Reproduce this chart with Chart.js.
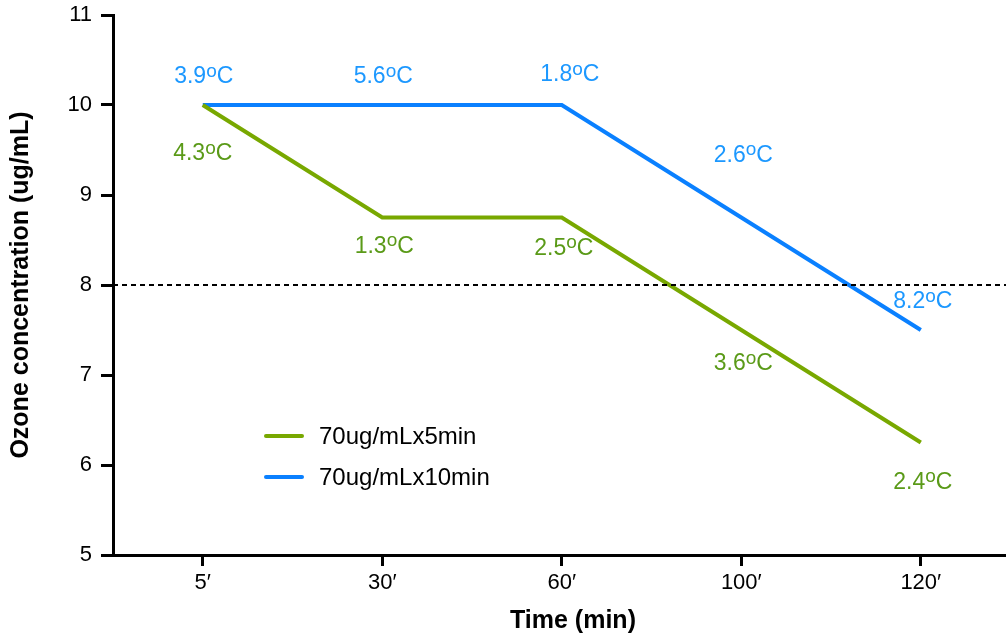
<!DOCTYPE html>
<html>
<head>
<meta charset="utf-8">
<script src="https://cdn.jsdelivr.net/npm/chart.js@4.4.1/dist/chart.umd.min.js"></script>
<style>
  html, body { margin: 0; padding: 0; background: #fff; overflow: hidden; }
  #wrap { width: 1006px; height: 636px; position: relative; overflow: hidden; }
</style>
</head>
<body>
<div id="wrap"><canvas id="c" width="1033" height="636"></canvas></div>
<script>
// Sampling times and ozone concentration for each exposure protocol
const timePoints = ["5′", "30′", "60′", "100′", "120′"];
const ozone5min  = [10, 8.75, 8.75, 7.5, 6.25];
const ozone10min = [10, 10, 10, 8.75, 7.5];
// Temperature measured at each sampling time
const temp5min  = ["4.3ºC", "1.3ºC", "2.5ºC", "3.6ºC", "2.4ºC"];
const temp10min = ["3.9ºC", "5.6ºC", "1.8ºC", "2.6ºC", "8.2ºC"];
const seriesNames = ["70ug/mLx5min", "70ug/mLx10min"];
const thresholdValue = 8;
const yTicks = [5, 6, 7, 8, 9, 10, 11];

const FONT = "'Liberation Sans', Arial, Helvetica, sans-serif";
const GREEN_LINE = "#78a800", GREEN_TEXT = "#5a9a18";
const BLUE_LINE = "#0a80ff", BLUE_TEXT = "#1c98ff";

const toXY = arr => arr.map((v, i) => ({ x: i, y: v }));

// Draws "3.9ºC" style labels with a raised "o" for the degree mark
function drawTempLabel(ctx, text, cx, cy, color) {
  const parts = text.split("º");
  const big = "23px " + FONT, small = "19px " + FONT;
  ctx.font = big;
  const w1 = ctx.measureText(parts[0]).width;
  const w3 = ctx.measureText(parts[1] || "").width;
  ctx.font = small;
  const w2 = ctx.measureText("o").width;
  const total = w1 + w2 + w3;
  let x = cx - total / 2;
  ctx.fillStyle = color;
  ctx.textAlign = "left";
  ctx.textBaseline = "alphabetic";
  const base = cy + 8;
  ctx.font = big; ctx.fillText(parts[0], x, base); x += w1;
  ctx.font = small; ctx.fillText("o", x, base - 6.5); x += w2;
  ctx.font = big; ctx.fillText(parts[1] || "", x, base);
}

const extras = {
  id: "extras",
  afterDatasetsDraw(chart) {
    const ctx = chart.ctx, xs = chart.scales.x, ys = chart.scales.y;
    const area = chart.chartArea;
    ctx.save();
    // dashed reference line
    const yT = ys.getPixelForValue(thresholdValue);
    ctx.strokeStyle = "#000"; ctx.lineWidth = 2; ctx.setLineDash([5, 4]);
    ctx.beginPath(); ctx.moveTo(area.left, yT); ctx.lineTo(area.right, yT); ctx.stroke();
    ctx.setLineDash([]);

    // temperature labels: offsets above/below each point
    const offs10 = [-30, -30, -32, -64, -30];
    const offs5  = [47, 27, 29, 32, 38];
    const dx10 = [1, 1, 8, 2, 2];
    const dx5  = [0, 2, 2, 2, 2];
    timePoints.forEach((t, i) => {
      drawTempLabel(ctx, temp10min[i], xs.getPixelForValue(i) + dx10[i], ys.getPixelForValue(ozone10min[i]) + offs10[i], BLUE_TEXT);
      drawTempLabel(ctx, temp5min[i], xs.getPixelForValue(i) + dx5[i], ys.getPixelForValue(ozone5min[i]) + offs5[i], GREEN_TEXT);
    });

    // legend inside the plot
    const items = [[seriesNames[0], GREEN_LINE, 436], [seriesNames[1], BLUE_LINE, 477]];
    ctx.lineCap = "round";
    items.forEach(([name, col, y]) => {
      ctx.strokeStyle = col; ctx.lineWidth = 4;
      ctx.beginPath(); ctx.moveTo(266, y); ctx.lineTo(302, y); ctx.stroke();
      ctx.fillStyle = "#000"; ctx.font = "24px " + FONT;
      ctx.textAlign = "left"; ctx.textBaseline = "middle";
      ctx.fillText(name, 319, y + 1);
    });
    ctx.restore();
  }
};

new Chart(document.getElementById("c"), {
  type: "line",
  data: {
    datasets: [
      { label: seriesNames[0], data: toXY(ozone5min), borderColor: GREEN_LINE, borderWidth: 4, pointRadius: 0, tension: 0, fill: false },
      { label: seriesNames[1], data: toXY(ozone10min), borderColor: BLUE_LINE, borderWidth: 4, pointRadius: 0, tension: 0, fill: false }
    ]
  },
  options: {
    responsive: false,
    animation: false,
    devicePixelRatio: 1,
    layout: { padding: { top: 15, right: 0, left: 0, bottom: 0 } },
    plugins: { legend: { display: false }, tooltip: { enabled: false } },
    scales: {
      x: {
        type: "linear",
        min: -0.5,
        max: 4.625,
        afterBuildTicks: s => { s.ticks = timePoints.map((_, i) => ({ value: i })); },
        afterFit: s => { s.height = 81; },
        ticks: {
          callback: v => timePoints[v] ?? "",
          color: "#000", font: { family: FONT, size: 22 }, padding: 4, maxRotation: 0, autoSkip: false
        },
        grid: { drawOnChartArea: false, drawTicks: true, tickLength: 11, tickWidth: 3, color: "#000" },
        border: { display: true, color: "#000", width: 3 },
        title: { display: true, text: "Time (min)", color: "#000", font: { family: FONT, size: 25, weight: "bold" }, padding: { top: 2, bottom: 0 } }
      },
      y: {
        min: 5, max: 11,
        afterBuildTicks: s => { s.ticks = yTicks.map(v => ({ value: v })); },
        afterFit: s => { s.width = 113; s.paddingTop = 0; },
        ticks: { color: "#000", font: { family: FONT, size: 22, lineHeight: 0.6 }, padding: 9 },
        grid: { drawOnChartArea: false, drawTicks: true, tickLength: 12, tickWidth: 3, color: "#000" },
        border: { display: true, color: "#000", width: 3 },
        title: { display: true, text: "Ozone concentration (ug/mL)", color: "#000", font: { family: FONT, size: 25, weight: "bold" }, padding: { top: 6, bottom: 4 } }
      }
    }
  },
  plugins: [extras]
});
</script>
</body>
</html>
